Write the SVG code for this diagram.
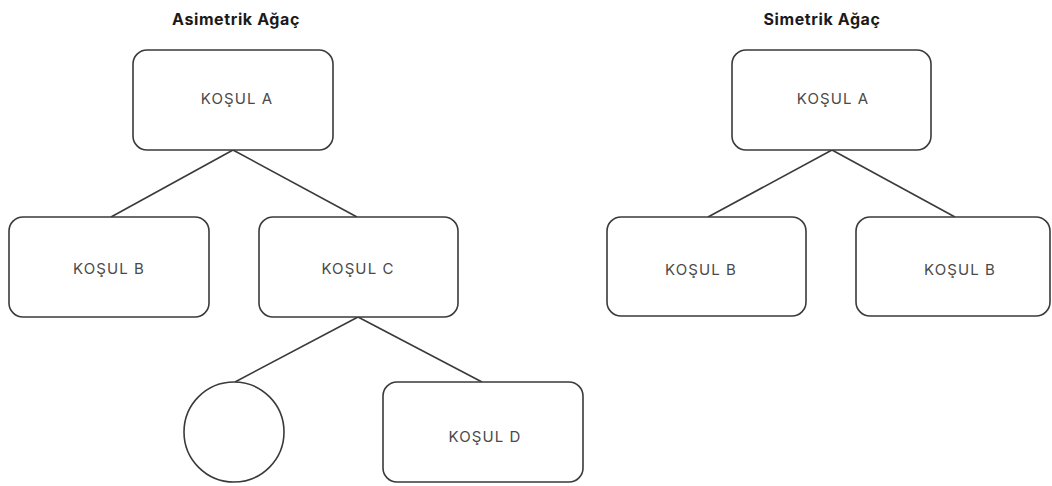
<svg xmlns="http://www.w3.org/2000/svg" width="1052" height="486" viewBox="0 0 1052 486">
<style>
.box{fill:#fff;stroke:#3a3a3a;stroke-width:1.6}
.lbl{font-family:Inter,"Liberation Sans",sans-serif;font-size:15px;letter-spacing:1.1px;fill:#4a4a4a;text-anchor:middle;dominant-baseline:central}
.ttl{font-family:Inter,"Liberation Sans",sans-serif;font-size:16px;font-weight:700;letter-spacing:0.6px;fill:#1a1a1a;text-anchor:middle}
.con{stroke:#3a3a3a;stroke-width:1.6;fill:none}
</style>
<rect width="1052" height="486" fill="#fff"/>
<text class="ttl" x="236" y="25">Asimetrik Ağaç</text>
<text class="ttl" x="822" y="25">Simetrik Ağaç</text>
<g id="connectors">
<line class="con" x1="233" y1="150" x2="111" y2="217"/>
<line class="con" x1="233" y1="150" x2="357" y2="217"/>
<line class="con" x1="358" y1="317" x2="235" y2="382"/>
<line class="con" x1="358" y1="317" x2="482" y2="382"/>
<line class="con" x1="832" y1="150" x2="708" y2="217"/>
<line class="con" x1="832" y1="150" x2="955" y2="217"/>
</g>
<g id="a-left"><rect class="box" x="133" y="50" width="200" height="100" rx="14"/><text class="lbl" x="237" y="98">KOŞUL A</text></g>
<g id="b-left"><rect class="box" x="9" y="217" width="200" height="100" rx="14"/><text class="lbl" x="109" y="268">KOŞUL B</text></g>
<g id="c-left"><rect class="box" x="259" y="217" width="199" height="100" rx="14"/><text class="lbl" x="358" y="268">KOŞUL C</text></g>
<g id="circle-left"><circle class="box" cx="234" cy="432" r="50"/></g>
<g id="d-left"><rect class="box" x="383" y="382" width="200" height="100" rx="14"/><text class="lbl" x="485" y="436">KOŞUL D</text></g>
<g id="a-right"><rect class="box" x="732" y="50" width="199" height="100" rx="14"/><text class="lbl" x="833" y="98">KOŞUL A</text></g>
<g id="b1-right"><rect class="box" x="607" y="217" width="199" height="99" rx="14"/><text class="lbl" x="701" y="269">KOŞUL B</text></g>
<g id="b2-right"><rect class="box" x="856" y="217" width="194" height="99" rx="14"/><text class="lbl" x="960" y="269">KOŞUL B</text></g>
</svg>
